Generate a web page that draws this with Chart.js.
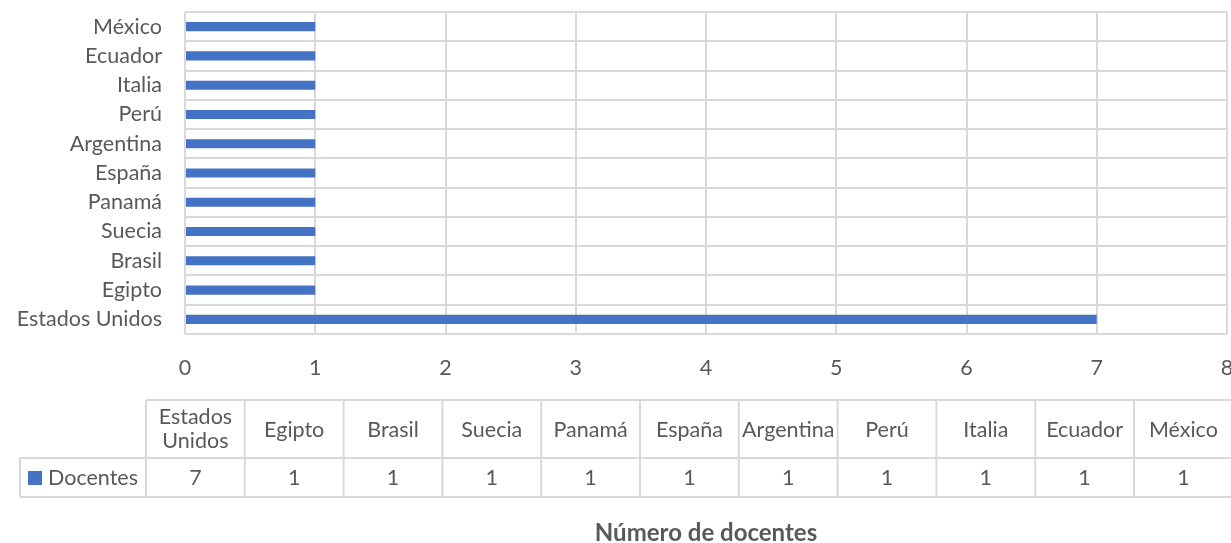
<!DOCTYPE html>
<html>
<head>
<meta charset="utf-8">
<script src="https://cdn.jsdelivr.net/npm/chart.js@4"></script>
<style>
  body { margin: 0; background: #fff; }
  canvas { display: block; }
</style>
</head>
<body>
<canvas id="barChart" width="1231" height="543"></canvas>
<script>
// Data for the chart (order as in the data table, first one drawn at the bottom)
const countries = ['Estados Unidos', 'Egipto', 'Brasil', 'Suecia', 'Panamá', 'España', 'Argentina', 'Perú', 'Italia', 'Ecuador', 'México'];
const docentes = [7, 1, 1, 1, 1, 1, 1, 1, 1, 1, 1];
const seriesName = 'Docentes';
const axisTitle = 'Número de docentes';

const textColor = '#595959';
const gridColor = '#d9d9d9';
const barColor = '#4472c4';
const fontFamily = 'Lato, "Open Sans", sans-serif';
const fontSize = 21.5;

// Excel-like data table under the chart
const dataTable = {
    id: 'dataTable',
    afterDraw(chart) {
        const ctx = chart.ctx;
        const legendLeft = 20, tableLeft = 146, colW = 98.8;
        const top = 400, mid = 458, bottom = 497;
        const right = tableLeft + colW * countries.length;

        ctx.save();
        ctx.strokeStyle = gridColor;
        ctx.lineWidth = 2;
        ctx.beginPath();
        ctx.moveTo(tableLeft, top); ctx.lineTo(right, top);
        ctx.moveTo(legendLeft, mid); ctx.lineTo(right, mid);
        ctx.moveTo(legendLeft, bottom); ctx.lineTo(right, bottom);
        ctx.moveTo(legendLeft, mid); ctx.lineTo(legendLeft, bottom);
        for (let i = 0; i <= countries.length; i++) {
            const x = tableLeft + colW * i;
            ctx.moveTo(x, top); ctx.lineTo(x, bottom);
        }
        ctx.stroke();

        ctx.fillStyle = textColor;
        ctx.font = fontSize + 'px ' + fontFamily;
        ctx.textAlign = 'center';
        ctx.textBaseline = 'middle';
        countries.forEach((name, i) => {
            const cx = tableLeft + colW * (i + 0.5);
            const words = name.split(' ');
            if (ctx.measureText(name).width > colW - 6 && words.length > 1) {
                ctx.fillText(words[0], cx, (top + mid) / 2 - 12);
                ctx.fillText(words.slice(1).join(' '), cx, (top + mid) / 2 + 12);
            } else {
                ctx.fillText(name, cx, (top + mid) / 2 + 1);
            }
            ctx.fillText(String(docentes[i]), cx, (mid + bottom) / 2 + 1);
        });

        // legend key
        ctx.fillStyle = barColor;
        ctx.fillRect(28, 471, 14, 14);
        ctx.fillStyle = textColor;
        ctx.textAlign = 'left';
        ctx.fillText(seriesName, 48, (mid + bottom) / 2 + 1);
        ctx.restore();
    }
};

const barChart = new Chart(document.getElementById('barChart'), {
    type: 'bar',
    data: {
        labels: countries,
        datasets: [{
            label: seriesName,
            data: docentes,
            backgroundColor: barColor,
            barPercentage: 0.31,
            categoryPercentage: 1
        }]
    },
    options: {
        indexAxis: 'y',
        responsive: false,
        animation: false,
        layout: {
            padding: { top: 12, right: 4, left: 0, bottom: 0 }
        },
        plugins: {
            legend: { display: false },
            tooltip: { enabled: false }
        },
        scales: {
            x: {
                min: 0,
                max: 8,
                ticks: {
                    stepSize: 1,
                    color: textColor,
                    padding: 21,
                    font: { family: fontFamily, size: fontSize }
                },
                grid: { color: gridColor, lineWidth: 2, drawTicks: false },
                border: { display: false },
                title: {
                    display: true,
                    text: axisTitle,
                    color: textColor,
                    font: { family: fontFamily, size: 24, weight: 'bold', lineHeight: 0.85 },
                    padding: { top: 140, bottom: 0 }
                },
                afterFit(scale) {
                    scale.paddingRight = 0;
                    scale.paddingLeft = 0;
                    scale.height = 209;
                }
            },
            y: {
                reverse: true,
                ticks: {
                    autoSkip: false,
                    color: textColor,
                    padding: 23,
                    font: { family: fontFamily, size: fontSize }
                },
                grid: { color: gridColor, lineWidth: 2, drawTicks: false, offset: true },
                border: { display: false },
                afterFit(scale) {
                    scale.width = 185;
                    scale.paddingTop = 0;
                    scale.paddingBottom = 0;
                }
            }
        }
    },
    plugins: [dataTable]
});
</script>
</body>
</html>
